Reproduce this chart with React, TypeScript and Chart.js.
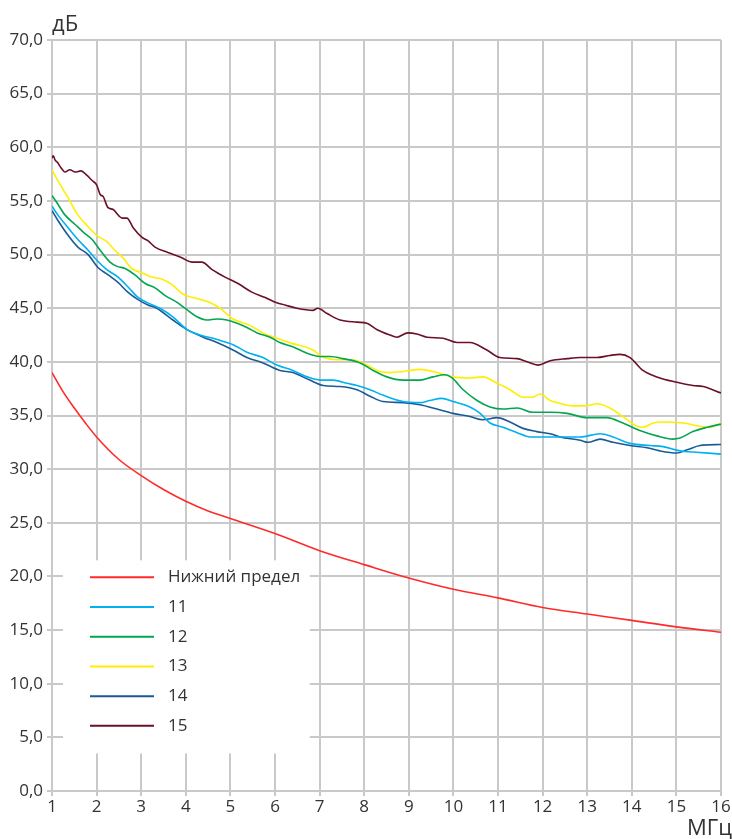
import React, { useEffect, useRef } from "react";
import { Chart, registerables } from "chart.js";

Chart.register(...registerables);

const FONT = "'Open Sans', 'Noto Sans', sans-serif";

// Axis labels / ticks
const yUnit = "дБ";
const xUnit = "МГц";
const xMin = 1;
const xMax = 16;
const yMin = 0;
const yMax = 70;
const yStep = 5;

// Series names
const seriesNames = ["Нижний предел", "11", "12", "13", "14", "15"];
const seriesColors = ["#ff2a2a", "#00b0f0", "#00a650", "#ffee00", "#1a5a96", "#6b1026"];

// Нижний предел
const limitFreq = [1, 1.25, 1.5, 1.75, 2, 2.5, 3, 3.5, 4, 4.5, 5, 6, 7, 8, 9, 10, 11, 12, 13, 14, 15, 16];
const limitDb = [39.0, 37.2, 35.7, 34.3, 33.0, 30.9, 29.4, 28.1, 27.0, 26.1, 25.4, 24.0, 22.4, 21.1, 19.85, 18.8, 18.0, 17.1, 16.5, 15.9, 15.3, 14.8];

// 11
const s11Freq = [1.0, 1.13, 1.36, 1.58, 1.81, 2.0, 2.23, 2.48, 2.7, 2.93, 3.15, 3.42, 3.71, 4.03, 4.32, 4.61, 4.92, 5.06, 5.37, 5.73, 6.04, 6.4, 6.72, 7.01, 7.3, 7.61, 7.84, 8.13, 8.42, 8.87, 9.25, 9.47, 9.74, 9.99, 10.37, 10.6, 10.82, 11.11, 11.43, 11.72, 12.0, 12.39, 12.84, 13.29, 13.58, 13.96, 14.41, 14.7, 15.08, 15.37, 16];
const s11Db = [54.5, 53.7, 52.5, 51.4, 50.4, 49.5, 48.6, 47.9, 47.0, 46.0, 45.5, 45.0, 44.2, 43.0, 42.5, 42.2, 41.8, 41.6, 40.9, 40.4, 39.7, 39.2, 38.6, 38.3, 38.3, 38.0, 37.8, 37.4, 36.9, 36.3, 36.2, 36.4, 36.6, 36.3, 35.8, 35.2, 34.3, 33.9, 33.4, 33.0, 33.0, 33.0, 33.0, 33.3, 33.0, 32.4, 32.2, 32.1, 31.7, 31.6, 31.4];

// 12
const s12Freq = [1.0, 1.1, 1.29, 1.52, 1.7, 1.9, 2.08, 2.3, 2.46, 2.64, 2.86, 3.09, 3.31, 3.53, 3.82, 3.98, 4.25, 4.47, 4.7, 4.92, 5.15, 5.37, 5.6, 5.89, 6.11, 6.4, 6.72, 7.01, 7.23, 7.52, 7.91, 8.2, 8.51, 8.87, 9.25, 9.54, 9.81, 9.97, 10.22, 10.53, 10.82, 11.11, 11.43, 11.78, 12.17, 12.55, 12.99, 13.44, 13.8, 14.18, 14.56, 14.92, 15.08, 15.37, 15.69, 16];
const s12Db = [55.5, 54.9, 53.7, 52.8, 52.1, 51.4, 50.4, 49.3, 48.9, 48.7, 48.1, 47.3, 46.9, 46.2, 45.5, 45.0, 44.2, 43.9, 44.0, 43.9, 43.6, 43.2, 42.7, 42.3, 41.8, 41.4, 40.8, 40.5, 40.5, 40.3, 39.9, 39.2, 38.6, 38.3, 38.3, 38.6, 38.8, 38.5, 37.4, 36.4, 35.8, 35.6, 35.7, 35.3, 35.3, 35.2, 34.8, 34.8, 34.3, 33.6, 33.1, 32.8, 32.9, 33.5, 33.9, 34.2];

// 13
const s13Freq = [1.0, 1.13, 1.36, 1.58, 1.81, 2.0, 2.23, 2.41, 2.59, 2.79, 3.02, 3.24, 3.47, 3.69, 3.94, 4.25, 4.5, 4.77, 5.06, 5.44, 5.73, 6.04, 6.4, 6.85, 7.05, 7.39, 7.75, 8.06, 8.35, 8.58, 8.87, 9.25, 9.63, 9.99, 10.37, 10.66, 10.98, 11.27, 11.56, 11.78, 11.94, 12.17, 12.32, 12.68, 12.99, 13.22, 13.51, 13.8, 14.12, 14.25, 14.48, 14.7, 15.15, 15.53, 15.75, 16];
const s13Db = [57.9, 56.9, 55.3, 53.7, 52.6, 51.8, 51.2, 50.4, 49.7, 48.7, 48.3, 47.9, 47.7, 47.2, 46.3, 45.9, 45.6, 45.0, 44.0, 43.4, 42.7, 42.2, 41.7, 41.1, 40.5, 40.2, 40.2, 39.7, 39.1, 39.0, 39.1, 39.3, 39.0, 38.6, 38.5, 38.6, 38.0, 37.4, 36.7, 36.7, 37.0, 36.4, 36.2, 35.9, 35.9, 36.1, 35.7, 34.9, 34.0, 33.9, 34.3, 34.4, 34.3, 34.0, 33.9, 34.3];

// 14
const s14Freq = [1.0, 1.13, 1.36, 1.58, 1.81, 2.03, 2.26, 2.48, 2.7, 2.93, 3.15, 3.35, 3.71, 4.03, 4.39, 4.7, 5.06, 5.37, 5.73, 6.11, 6.4, 6.78, 7.08, 7.46, 7.84, 8.13, 8.42, 8.87, 9.25, 9.63, 9.99, 10.37, 10.66, 10.98, 11.27, 11.56, 11.87, 12.17, 12.39, 12.84, 13.02, 13.29, 13.58, 13.96, 14.34, 14.63, 15.01, 15.24, 15.53, 16];
const s14Db = [54.1, 53.2, 51.8, 50.7, 50.0, 48.8, 48.1, 47.4, 46.5, 45.8, 45.3, 45.0, 43.9, 43.0, 42.3, 41.8, 41.1, 40.4, 39.9, 39.2, 39.0, 38.3, 37.8, 37.7, 37.4, 36.8, 36.3, 36.2, 36.0, 35.6, 35.2, 34.9, 34.6, 34.8, 34.4, 33.8, 33.5, 33.3, 33.0, 32.7, 32.5, 32.8, 32.5, 32.2, 32.0, 31.7, 31.5, 31.8, 32.2, 32.3];

// 15
const s15Freq = [1.0, 1.03, 1.07, 1.12, 1.2, 1.29, 1.4, 1.52, 1.65, 1.78, 1.9, 2.0, 2.08, 2.15, 2.25, 2.37, 2.5, 2.57, 2.68, 2.82, 3.02, 3.15, 3.31, 3.6, 3.91, 4.14, 4.36, 4.59, 4.88, 5.17, 5.48, 5.78, 6.04, 6.22, 6.49, 6.85, 6.96, 7.17, 7.46, 7.84, 8.06, 8.29, 8.58, 8.73, 8.98, 9.18, 9.41, 9.77, 10.08, 10.37, 10.75, 11.04, 11.43, 11.65, 11.9, 12.17, 12.55, 12.84, 13.22, 13.51, 13.74, 13.96, 14.25, 14.56, 15.01, 15.37, 15.6, 16];
const s15Db = [59.0, 59.2, 58.8, 58.6, 58.1, 57.7, 57.9, 57.7, 57.8, 57.4, 56.9, 56.5, 55.6, 55.4, 54.4, 54.2, 53.6, 53.4, 53.4, 52.5, 51.6, 51.3, 50.7, 50.2, 49.7, 49.3, 49.3, 48.6, 47.9, 47.3, 46.5, 46.0, 45.5, 45.3, 45.0, 44.8, 45.0, 44.5, 43.9, 43.7, 43.6, 43.0, 42.5, 42.3, 42.7, 42.6, 42.3, 42.2, 41.8, 41.8, 41.1, 40.4, 40.3, 40.0, 39.7, 40.1, 40.3, 40.4, 40.4, 40.6, 40.7, 40.4, 39.2, 38.6, 38.1, 37.8, 37.7, 37.1];

const seriesFreq = [limitFreq, s11Freq, s12Freq, s13Freq, s14Freq, s15Freq];
const seriesDb = [limitDb, s11Db, s12Db, s13Db, s14Db, s15Db];

const GRID = "#c9c9c9";
const TEXT = "#333333";

const fmt = (v: number) => v.toFixed(1).replace(".", ",");

const overlayPlugin = {
  id: "overlay",
  beforeDatasetsDraw(chart: any) {
    const ctx = chart.ctx;
    const { x, y } = chart.scales;
    // legend background box covering grid
    const left = x.left + 11;
    const right = x.getPixelForValue(6.78);
    const top = y.getPixelForValue(21.5);
    const bottom = y.getPixelForValue(3.5);
    ctx.save();
    ctx.fillStyle = "#ffffff";
    ctx.fillRect(left, top, right - left, bottom - top);
    ctx.restore();
  },
  afterDraw(chart: any) {
    const ctx = chart.ctx;
    const { x, y } = chart.scales;
    ctx.save();
    // legend
    const lx0 = x.left + 38;
    const lx1 = x.left + 102;
    const tx = x.left + 116;
    let ly = y.getPixelForValue(21.5) + 17;
    ctx.font = `17px ${FONT}`;
    ctx.textBaseline = "middle";
    ctx.textAlign = "left";
    for (let i = 0; i < seriesNames.length; i++) {
      ctx.strokeStyle = seriesColors[i];
      ctx.lineWidth = 2;
      ctx.beginPath();
      ctx.moveTo(lx0, ly);
      ctx.lineTo(lx1, ly);
      ctx.stroke();
      ctx.fillStyle = TEXT;
      ctx.fillText(seriesNames[i], tx, ly);
      ly += 29.7;
    }
    // axis units
    ctx.font = `22px ${FONT}`;
    ctx.fillStyle = TEXT;
    ctx.textBaseline = "alphabetic";
    ctx.textAlign = "left";
    ctx.fillText(yUnit, x.left, 31);
    ctx.fillText(xUnit, 687, 835);
    ctx.restore();
  },
};

export default function App() {
  const ref = useRef<HTMLCanvasElement>(null);
  useEffect(() => {
    const datasets = seriesNames.map((name, i) => ({
      label: name,
      data: seriesFreq[i].map((f, k) => ({ x: f, y: seriesDb[i][k] })),
      borderColor: seriesColors[i],
      backgroundColor: seriesColors[i],
      borderWidth: 1.6,
      pointRadius: 0,
      fill: false,
      cubicInterpolationMode: "monotone" as const,
    }));
    const chart = new Chart(ref.current!, {
      type: "line",
      data: { datasets },
      options: {
        animation: false,
        responsive: false,
        layout: { padding: { top: 40, right: 11, left: 0, bottom: 0 } },
        plugins: { legend: { display: false }, tooltip: { enabled: false } },
        scales: {
          x: {
            type: "linear",
            min: xMin,
            max: xMax,
            ticks: {
              stepSize: 1,
              color: TEXT,
              font: { family: FONT, size: 17 },
              padding: 1,
              maxRotation: 0,
            },
            grid: { color: GRID, lineWidth: 2, tickLength: 5 },
            border: { color: GRID, width: 2 },
            afterFit: (s: any) => {
              s.height = 48;
            },
          },
          y: {
            type: "linear",
            min: yMin,
            max: yMax,
            ticks: {
              stepSize: yStep,
              color: TEXT,
              font: { family: FONT, size: 17 },
              padding: 4,
              callback: (v: any) => fmt(Number(v)),
            },
            grid: { color: GRID, lineWidth: 2, tickLength: 5 },
            border: { color: GRID, width: 2 },
            afterFit: (s: any) => {
              s.width = 52;
            },
          },
        },
      },
      plugins: [overlayPlugin],
    });
    return () => chart.destroy();
  }, []);
  return (
    <div style={{ position: "absolute", left: 0, top: 0, width: 732, height: 839, background: "#fff" }}>
      <canvas ref={ref} width={732} height={839} style={{ display: "block", width: 732, height: 839 }} />
    </div>
  );
}
